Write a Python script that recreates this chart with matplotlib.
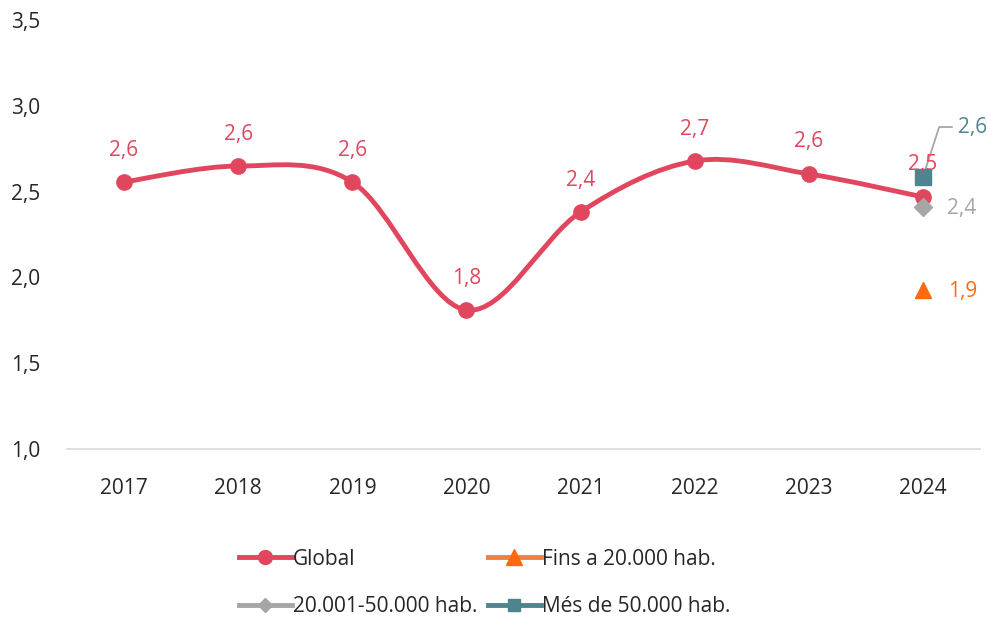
import matplotlib
matplotlib.use("Agg")
import matplotlib.pyplot as plt
from matplotlib.path import Path
from matplotlib.patches import PathPatch
from matplotlib.lines import Line2D
import numpy as np

years = ["2017", "2018", "2019", "2020", "2021", "2022", "2023", "2024"]
global_vals = [2.556, 2.649, 2.556, 1.81, 2.381, 2.678, 2.603, 2.469]
global_labels = ["2,6", "2,6", "2,6", "1,8", "2,4", "2,7", "2,6", "2,5"]
fins20_val = 1.927
mid_val = 2.41
mes50_val = 2.585
fins20_label = "1,9"
mid_label = "2,4"
mes50_label = "2,6"
yticks = [1.0, 1.5, 2.0, 2.5, 3.0, 3.5]
ytick_labels = ["1,0", "1,5", "2,0", "2,5", "3,0", "3,5"]
series_names = ["Global", "Fins a 20.000 hab.", "20.001-50.000 hab.", "Més de 50.000 hab."]

c_global = "#E0475E"
c_orange = "#FF6A10"
c_orange_line = "#F08040"
c_grey = "#A6A6A6"
c_teal = "#4E8490"
c_text = "#262626"
FS = 15

plt.rcParams['font.family'] = ['Open Sans', 'DejaVu Sans']

fig = plt.figure(figsize=(9.9, 6.19), dpi=100)
ax = fig.add_axes([67/990, 1-449/619, (980-67)/990, (449-20)/619])
x = np.arange(len(years))

# smooth (Excel-style Bezier) line
pts = np.column_stack([x, global_vals]).astype(float)
verts = [tuple(pts[0])]
codes = [Path.MOVETO]
n = len(pts)
for i in range(n - 1):
    p0 = pts[i - 1] if i > 0 else pts[i]
    p1 = pts[i]
    p2 = pts[i + 1]
    p3 = pts[i + 2] if i + 2 < n else pts[i + 1]
    c1 = p1 + (p2 - p0) / 6.0
    c2 = p2 - (p3 - p1) / 6.0
    verts += [tuple(c1), tuple(c2), tuple(p2)]
    codes += [Path.CURVE4] * 3
ax.add_patch(PathPatch(Path(verts, codes), fill=False, edgecolor=c_global, lw=3.5,
                       capstyle='round', zorder=3))
ax.plot(x, global_vals, linestyle='none', marker='o', ms=11, color=c_global, zorder=4)

for xi, v, lab in zip(x, global_vals, global_labels):
    ax.annotate(lab, (xi, v), xytext=(0, 23), textcoords='offset points', ha='center',
                va='center', color=c_global, fontsize=FS, zorder=6)

xl = x[-1]
ax.plot([xl], [mes50_val], marker='s', ms=11, color=c_teal, linestyle='none', zorder=5)
ax.plot([xl], [mid_val], marker='D', ms=9, color=c_grey, linestyle='none', zorder=5)
ax.plot([xl], [fins20_val], marker='^', ms=12, color=c_orange, linestyle='none', zorder=5)

ax.annotate(mid_label, (xl, mid_val), xytext=(17, -1), textcoords='offset points',
            ha='left', va='center', color=c_grey, fontsize=FS)
ax.annotate(fins20_label, (xl, fins20_val), xytext=(18, -1), textcoords='offset points',
            ha='left', va='center', color=c_orange, fontsize=FS)
ax.annotate(mes50_label, (xl, mes50_val), xytext=(25, 36), textcoords='offset points',
            ha='left', va='center', color=c_teal, fontsize=FS,
            arrowprops=dict(arrowstyle='-', color=c_grey, lw=1.3,
                            connectionstyle='angle,angleA=0,angleB=72,rad=0',
                            shrinkA=2, shrinkB=0))

ax.set_xlim(-0.5, 7.5)
ax.set_ylim(1.0, 3.5)
ax.set_xticks(x)
ax.set_xticklabels(years)
ax.set_yticks(yticks)
ax.set_yticklabels(ytick_labels)
ax.tick_params(length=0, labelsize=FS, colors=c_text)
ax.tick_params(axis='x', pad=21)
ax.tick_params(axis='y', pad=19)
for s in ['top', 'right', 'left']:
    ax.spines[s].set_visible(False)
ax.spines['bottom'].set_color('#D9D9D9')
ax.spines['bottom'].set_linewidth(1.2)

h_global = Line2D([], [], color=c_global, lw=3.5, marker='o', ms=10)
h_fins = Line2D([], [], color=c_orange_line, lw=3.5, marker='^', ms=11, mfc=c_orange, mec=c_orange)
h_mid = Line2D([], [], color=c_grey, lw=3.5, marker='D', ms=7)
h_mes = Line2D([], [], color=c_teal, lw=3.5, marker='s', ms=9)
# matplotlib fills legend columns first, so order for row-major appearance
handles = [h_global, h_mid, h_fins, h_mes]
labels = [series_names[0], series_names[2], series_names[1], series_names[3]]
leg = fig.legend(handles, labels, ncol=2, loc='upper left',
                 bbox_to_anchor=(220/990, 1-530/619), frameon=False, fontsize=FS,
                 handlelength=2.55, handletextpad=0.05, columnspacing=0.5,
                 labelspacing=1.25)
for t in leg.get_texts():
    t.set_color(c_text)

fig.savefig("out.png", dpi=100)
